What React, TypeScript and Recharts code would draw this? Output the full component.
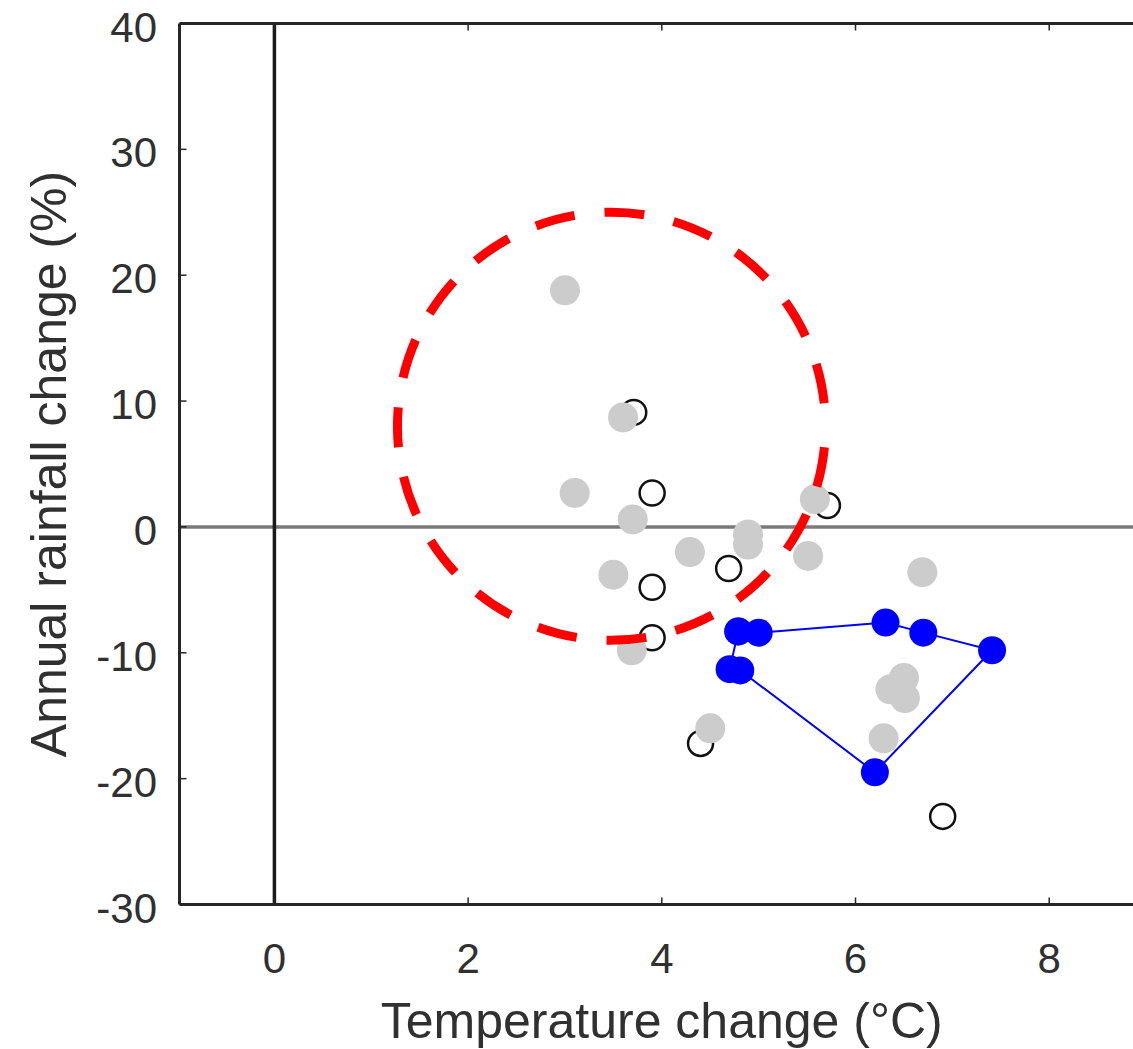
import React from 'react';
import { ScatterChart, Scatter, XAxis, YAxis, ReferenceLine, ReferenceDot, Label } from 'recharts';

// gray filled points
const grayTemp = [3.0, 3.6, 3.1, 3.7, 4.29, 4.89, 4.89, 5.51, 5.58, 3.5, 3.69, 6.69, 6.5, 6.51, 6.36, 6.29, 4.5];
const grayRain = [18.8, 8.7, 2.7, 0.6, -2.0, -0.6, -1.4, -2.3, 2.2, -3.8, -9.8, -3.6, -12.0, -13.6, -12.9, -16.8, -16.0];

// open circles
const openTemp = [3.71, 3.9, 5.71, 4.69, 3.9, 3.9, 4.4, 6.9];
const openRain = [9.1, 2.7, 1.7, -3.3, -4.8, -8.8, -17.2, -23.0];

// blue points, in hull order (first point repeated to close the outline)
const blueTemp = [4.79, 5.0, 6.31, 6.7, 7.41, 6.2, 4.81, 4.7, 4.79];
const blueRain = [-8.3, -8.4, -7.6, -8.4, -9.8, -19.5, -11.4, -11.3, -8.3];

const xTicks = [0, 2, 4, 6, 8];
const yTicks = [-30, -20, -10, 0, 10, 20, 30, 40];
const xDomain = [-0.98, 9.02];
const yDomain = [-30, 40];

// dashed red circle centre
const circleTemp = 3.48;
const circleRain = 8.0;

const toPoints = (xs: number[], ys: number[]) => xs.map((x, i) => ({ x, y: ys[i] }));
const grayData = toPoints(grayTemp, grayRain);
const openData = toPoints(openTemp, openRain);
const blueData = toPoints(blueTemp, blueRain);

const FONT = '"Liberation Sans", Arial, Helvetica, sans-serif';
const INK = '#262626';
const TXT = '#303030';

const LeftTick = (props: any) => {
  const { x, y, payload } = props;
  return (
    <g>
      <line x1={x} x2={x + 7} y1={y} y2={y} stroke={INK} strokeWidth={1.5} />
      <text x={x - 22.5} y={y + 18} textAnchor="end" fontSize={42} fill={TXT} fontFamily={FONT}>
        {payload.value}
      </text>
    </g>
  );
};

const BottomTick = (props: any) => {
  const { x, y, payload } = props;
  return (
    <g>
      <line x1={x} x2={x} y1={y} y2={y - 7} stroke={INK} strokeWidth={1.5} />
      <text x={x} y={y + 68.5} textAnchor="middle" fontSize={42} fill={TXT} fontFamily={FONT}>
        {payload.value}
      </text>
    </g>
  );
};

const TopTick = (props: any) => {
  const { x, y } = props;
  return <line x1={x} x2={x} y1={y} y2={y + 7} stroke={INK} strokeWidth={1.5} />;
};

const XTitle = (props: any) => {
  const vb = props.viewBox || { x: 179.5, y: 904.5, width: 968.5, height: 144.5 };
  return (
    <text x={vb.x + vb.width / 2 - 2} y={vb.y + 133.5} textAnchor="middle" fontSize={50} fill={TXT} fontFamily={FONT}>
      Temperature change (°C)
    </text>
  );
};

const YTitle = (props: any) => {
  const vb = props.viewBox || { x: 0, y: 23.5, width: 179.5, height: 881 };
  const cx = vb.x + 66;
  const cy = vb.y + vb.height / 2;
  return (
    <text x={cx} y={cy} transform={`rotate(-90, ${cx}, ${cy})`} textAnchor="middle" fontSize={50} fill={TXT} fontFamily={FONT}>
      Annual rainfall change (%)
    </text>
  );
};

const GrayDot = (p: any) => <circle cx={p.cx} cy={p.cy} r={15} fill="#cccccc" />;
const OpenDot = (p: any) => <circle cx={p.cx} cy={p.cy} r={12.5} fill="none" stroke="#111111" strokeWidth={2.5} />;
const BlueDot = (p: any) => <circle cx={p.cx} cy={p.cy} r={14} fill="#0000ff" />;

const RedRing = (p: any) => (
  <circle
    cx={p.cx}
    cy={p.cy}
    r={214}
    fill="none"
    stroke="#ff0000"
    strokeWidth={9}
    strokeDasharray="40 30"
    strokeDashoffset={49}
  />
);

export default function App() {
  return (
    <div style={{ position: 'absolute', left: 0, top: 0, width: 1133, height: 1049, overflow: 'hidden', background: '#fff' }}>
      <ScatterChart width={1148} height={1049} margin={{ top: 22.5, right: 0, bottom: 0, left: 0 }}>
        <XAxis
          type="number"
          dataKey="x"
          domain={xDomain}
          ticks={xTicks}
          interval={0}
          allowDataOverflow
          height={144.5}
          tickSize={0}
          tickMargin={0}
          tickLine={false}
          tick={<BottomTick />}
          axisLine={{ stroke: INK, strokeWidth: 3 }}
        >
          <Label content={<XTitle />} />
        </XAxis>
        <XAxis
          xAxisId="top"
          orientation="top"
          type="number"
          dataKey="x"
          domain={xDomain}
          ticks={xTicks}
          interval={0}
          allowDataOverflow
          height={1}
          tickSize={0}
          tickMargin={0}
          tickLine={false}
          tick={<TopTick />}
          axisLine={{ stroke: INK, strokeWidth: 3 }}
        />
        <YAxis
          type="number"
          dataKey="y"
          domain={yDomain}
          ticks={yTicks}
          interval={0}
          allowDataOverflow
          width={179.5}
          tickSize={0}
          tickMargin={0}
          tickLine={false}
          tick={<LeftTick />}
          axisLine={{ stroke: INK, strokeWidth: 3 }}
        >
          <Label content={<YTitle />} />
        </YAxis>
        <Scatter data={openData} shape={<OpenDot />} isAnimationActive={false} />
        <Scatter data={grayData} shape={<GrayDot />} isAnimationActive={false} />
        <ReferenceDot x={circleTemp} y={circleRain} r={214} shape={<RedRing />} ifOverflow="visible" />
        <Scatter
          data={blueData}
          shape={<BlueDot />}
          line={{ stroke: '#0000ff', strokeWidth: 2 }}
          lineType="joint"
          isAnimationActive={false}
        />
        <ReferenceLine y={0} stroke="#7a7a7a" strokeWidth={3.5} />
        <ReferenceLine x={0} stroke="#1a1a1a" strokeWidth={3.5} />
      </ScatterChart>
    </div>
  );
}
